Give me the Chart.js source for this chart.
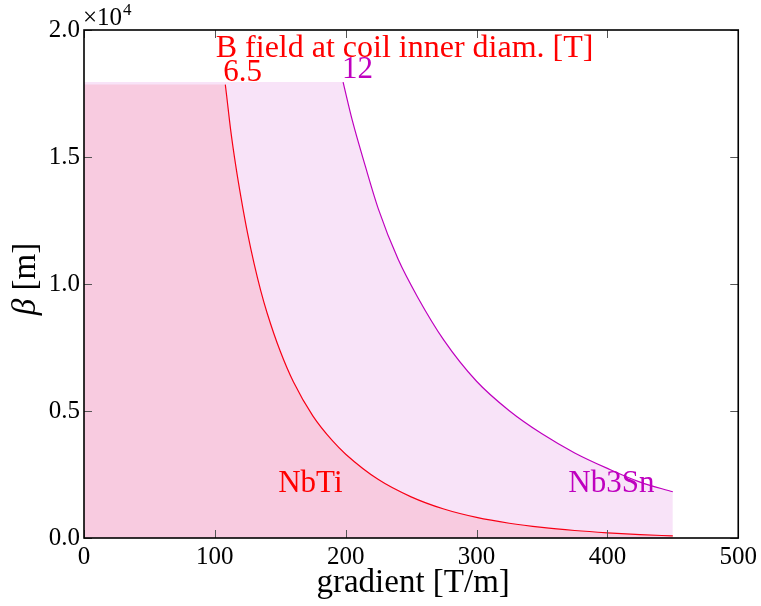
<!DOCTYPE html>
<html>
<head>
<meta charset="utf-8">
<script src="https://cdn.jsdelivr.net/npm/chart.js@4.4.1/dist/chart.umd.min.js"></script>
<style>
    html, body { margin: 0; padding: 0; background: #fff; }
    #betaChart { display: block; }
</style>
</head>
<body>
<canvas id="betaChart" width="761" height="606"></canvas>
<script>
// === Data: maximum beta vs quadrupole gradient ===
var gradNbTi  = [0, 108, 109, 112, 116, 120, 125, 130, 135, 140, 150, 160, 175, 190, 200, 225, 250, 275, 300, 325, 350, 375, 400, 425, 450];
var betaNbTi  = [17850, 17850, 17420, 16100, 14650, 13400, 12000, 10800, 9750, 8850, 7350, 6150, 4800, 3820, 3300, 2300, 1620, 1140, 810, 580, 415, 295, 205, 135, 80];

var gradNb3Sn = [0, 198, 199, 205, 215, 225, 240, 255, 275, 300, 325, 350, 375, 400, 425, 450];
var betaNb3Sn = [17950, 17950, 17730, 16450, 14640, 12950, 10980, 9480, 7790, 6170, 5010, 4100, 3350, 2740, 2200, 1820];

var fieldNbTi  = '6.5';
var fieldNb3Sn = '12';

var xTicks = [0, 100, 200, 300, 400, 500];
var yTicks = [0, 5000, 10000, 15000, 20000];

var RED = '#ff0000';
var MAGENTA = '#bf00bf';
var SERIF = '"Liberation Serif", "DejaVu Serif", serif';

function toPoints(xs, ys, from) {
    var out = [];
    for (var i = from; i < xs.length; i++) out.push({x: xs[i], y: ys[i]});
    return out;
}

// shaded area under the whole curve, capped part included
function area(xs, ys, fill) {
    return {
        data: toPoints(xs, ys, 0),
        borderWidth: 0,
        borderColor: 'rgba(0,0,0,0)',
        backgroundColor: fill,
        fill: 'origin',
        pointRadius: 0,
        cubicInterpolationMode: 'monotone'
    };
}

// outline only where beta falls (from the end of the cap onward)
function outline(xs, ys, line) {
    return {
        data: toPoints(xs, ys, 1),
        borderWidth: 1.2,
        borderColor: line,
        fill: false,
        pointRadius: 0,
        cubicInterpolationMode: 'monotone'
    };
}

var decorations = {
    id: 'decorations',
    afterDraw: function(chart) {
        var ctx = chart.ctx;
        var a = chart.chartArea;
        var x = chart.scales.x;
        var y = chart.scales.y;

        ctx.save();

        // inward tick marks on all four sides
        ctx.strokeStyle = '#555';
        ctx.lineWidth = 1;
        ctx.beginPath();
        xTicks.forEach(function(v) {
            var px = Math.round(x.getPixelForValue(v)) + 0.5;
            ctx.moveTo(px, a.bottom); ctx.lineTo(px, a.bottom - 8);
            ctx.moveTo(px, a.top);    ctx.lineTo(px, a.top + 8);
        });
        yTicks.forEach(function(v) {
            var py = Math.round(y.getPixelForValue(v)) + 0.5;
            ctx.moveTo(a.left, py);  ctx.lineTo(a.left + 8, py);
            ctx.moveTo(a.right, py); ctx.lineTo(a.right - 8, py);
        });
        ctx.stroke();

        // frame
        ctx.strokeStyle = '#000';
        ctx.lineWidth = 1.6;
        ctx.strokeRect(a.left, a.top, a.right - a.left, a.bottom - a.top);

        // offset text of the y axis
        ctx.fillStyle = '#000';
        ctx.textAlign = 'left';
        ctx.textBaseline = 'alphabetic';
        ctx.font = '25px ' + SERIF;
        ctx.fillText('\u00d710', a.left - 1, 25);
        var w = ctx.measureText('\u00d710').width;
        ctx.font = '17px ' + SERIF;
        ctx.fillText('4', a.left - 1 + w + 1, 15);

        // axis titles
        ctx.font = '33px ' + SERIF;
        ctx.textAlign = 'center';
        ctx.fillText('gradient [T/m]', (a.left + a.right) / 2 + 2, 592);

        ctx.save();
        ctx.translate(35, (a.top + a.bottom) / 2 - 5);
        ctx.rotate(-Math.PI / 2);
        ctx.textAlign = 'left';
        ctx.font = 'italic 33px ' + SERIF;
        var bw = ctx.measureText('\u03b2').width;
        ctx.font = '33px ' + SERIF;
        var rw = ctx.measureText(' [m]').width;
        var sx = -(bw + rw) / 2;
        ctx.font = 'italic 33px ' + SERIF;
        ctx.fillText('\u03b2', sx, 0);
        ctx.font = '33px ' + SERIF;
        ctx.fillText(' [m]', sx + bw, 0);
        ctx.restore();

        // field labels above the cap
        ctx.fillStyle = RED;
        ctx.font = '32px ' + SERIF;
        ctx.textAlign = 'center';
        ctx.fillText('B field at coil inner diam. [T]', x.getPixelForValue(245), y.getPixelForValue(18950));

        ctx.font = '31px ' + SERIF;
        ctx.textAlign = 'left';
        ctx.fillText(fieldNbTi, x.getPixelForValue(gradNbTi[1]) - 2, y.getPixelForValue(betaNbTi[1]) - 4);
        ctx.fillStyle = MAGENTA;
        ctx.fillText(fieldNb3Sn, x.getPixelForValue(gradNb3Sn[1]) - 1, y.getPixelForValue(betaNb3Sn[1]) - 4);

        // conductor names
        ctx.textAlign = 'center';
        ctx.fillStyle = RED;
        ctx.fillText('NbTi', x.getPixelForValue(173), y.getPixelForValue(1810));
        ctx.fillStyle = MAGENTA;
        ctx.fillText('Nb3Sn', x.getPixelForValue(403), y.getPixelForValue(1810));

        ctx.restore();
    }
};

var ctx = document.getElementById('betaChart').getContext('2d');
new Chart(ctx, {
    type: 'line',
    data: {
        datasets: [
            area(gradNb3Sn, betaNb3Sn, 'rgba(191, 0, 191, 0.11)'),
            area(gradNbTi, betaNbTi, 'rgba(255, 0, 0, 0.11)'),
            outline(gradNb3Sn, betaNb3Sn, MAGENTA),
            outline(gradNbTi, betaNbTi, RED)
        ]
    },
    options: {
        responsive: false,
        animation: false,
        layout: { padding: { top: 30, right: 20, left: 0, bottom: 0 } },
        plugins: {
            legend: { display: false },
            tooltip: { enabled: false }
        },
        scales: {
            x: {
                type: 'linear',
                min: 0,
                max: 500,
                afterBuildTicks: function(s) { s.ticks = xTicks.map(function(v) { return {value: v}; }); },
                afterFit: function(s) { s.height = 68; },
                grid: { display: false, drawTicks: false },
                border: { display: false },
                ticks: {
                    color: '#000',
                    padding: 4,
                    maxRotation: 0,
                    font: { family: SERIF, size: 25 }
                }
            },
            y: {
                type: 'linear',
                min: 0,
                max: 20000,
                afterBuildTicks: function(s) { s.ticks = yTicks.map(function(v) { return {value: v}; }); },
                afterFit: function(s) { s.width = 84; },
                grid: { display: false, drawTicks: false },
                border: { display: false },
                ticks: {
                    color: '#000',
                    padding: 4,
                    font: { family: SERIF, size: 25 },
                    callback: function(v) { return (v / 10000).toFixed(1); }
                }
            }
        }
    },
    plugins: [decorations]
});
</script>
</body>
</html>
